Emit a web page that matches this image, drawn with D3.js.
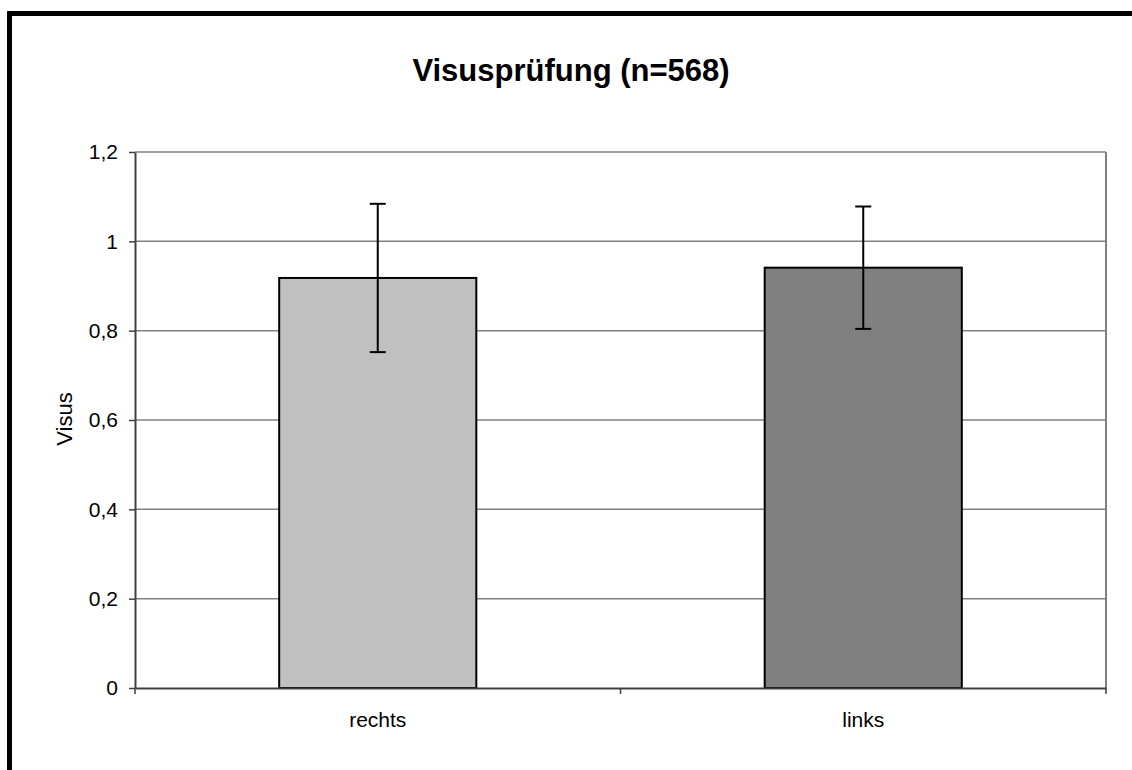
<!DOCTYPE html>
<html><head><meta charset="utf-8">
<script src="https://cdn.jsdelivr.net/npm/d3@7"></script>
<style>body{margin:0;background:#fff}svg{display:block}text{font-family:"Liberation Sans",Arial,sans-serif}</style>
</head><body>
<svg id="c" width="1132" height="770"></svg>
<script>
const categories = ["rechts", "links"];
const means = [0.918, 0.941];
const errors = [0.166, 0.137];
const colors = ["#C0C0C0", "#808080"];
const yTicks = [0, 0.2, 0.4, 0.6, 0.8, 1.0, 1.2];
const title = "Visusprüfung (n=568)";
const yTitle = "Visus";

const svg = d3.select("#c");
const L = 135, R = 1106, T = 152, B = 688;
const FONT = '"Liberation Sans",Arial,sans-serif';

// outer frame (extends beyond right/bottom edges)
svg.append("rect").attr("x", 9.5).attr("y", 13.5).attr("width", 1200).attr("height", 900)
  .attr("fill", "none").attr("stroke", "#000").attr("stroke-width", 5);

const x = d3.scaleBand().domain(categories).range([L, R]).paddingInner(0).paddingOuter(0);
const y = d3.scaleLinear().domain([0, 1.2]).range([B, T]);
const barW = x.bandwidth() * 0.406;

// gridlines
svg.append("g").selectAll("line").data(yTicks.filter(d => d > 0)).join("line")
  .attr("x1", L).attr("x2", R).attr("y1", d => y(d)).attr("y2", d => y(d))
  .attr("stroke", "#808080").attr("stroke-width", 1.5);
// right border
svg.append("line").attr("x1", R).attr("x2", R).attr("y1", T).attr("y2", B)
  .attr("stroke", "#808080").attr("stroke-width", 2);

// bars
svg.append("g").selectAll("rect").data(categories).join("rect")
  .attr("x", d => x(d) + (x.bandwidth() - barW) / 2)
  .attr("y", (d, i) => y(means[i]))
  .attr("width", barW)
  .attr("height", (d, i) => y(0) - y(means[i]))
  .attr("fill", (d, i) => colors[i]).attr("stroke", "#000").attr("stroke-width", 2);

// error bars
const eb = svg.append("g").attr("stroke", "#000").attr("stroke-width", 2);
categories.forEach((c, i) => {
  const cx = x(c) + x.bandwidth() / 2;
  eb.append("line").attr("x1", cx).attr("x2", cx).attr("y1", y(means[i] + errors[i])).attr("y2", y(means[i] - errors[i]));
  [means[i] + errors[i], means[i] - errors[i]].forEach(v => {
    eb.append("line").attr("x1", cx - 8).attr("x2", cx + 8).attr("y1", y(v)).attr("y2", y(v));
  });
});

// y axis
const fmt = d => d === 0 ? "0" : (d === 1 ? "1" : d3.format(".1f")(d).replace(".", ","));
const ya = svg.append("g").attr("transform", `translate(${L},0)`)
  .call(d3.axisLeft(y).tickValues(yTicks).tickFormat(fmt).tickSize(6).tickSizeOuter(0));
ya.select(".domain").attr("stroke", "#404040").attr("stroke-width", 2);
ya.selectAll(".tick line").attr("stroke", "#404040").attr("stroke-width", 1.5);
ya.selectAll(".tick text").attr("font-size", 21).attr("fill", "#000").attr("x", -17)
  .attr("font-family", FONT);

// x axis
const xa = svg.append("g").attr("transform", `translate(0,${B})`)
  .call(d3.axisBottom(x).tickSize(0).tickSizeOuter(0));
xa.select(".domain").attr("stroke", "#404040").attr("stroke-width", 2);
xa.selectAll(".tick text").attr("font-size", 21).attr("fill", "#000").attr("y", 39).attr("dy", 0)
  .attr("font-family", FONT);
// x category separator ticks
const sepTicks = [L, ...categories.map(c => x(c) + x.bandwidth())];
svg.append("g").selectAll("line").data(sepTicks).join("line")
  .attr("x1", d => d).attr("x2", d => d).attr("y1", B).attr("y2", B + 6)
  .attr("stroke", "#404040").attr("stroke-width", 1.5);

// title
svg.append("text").attr("x", 571).attr("y", 81).attr("text-anchor", "middle")
  .attr("font-size", 31).attr("font-weight", "bold").text(title);
// y title
svg.append("text").attr("transform", "translate(72,419) rotate(-90)").attr("text-anchor", "middle")
  .attr("font-size", 22).text(yTitle);
</script>
</body></html>
